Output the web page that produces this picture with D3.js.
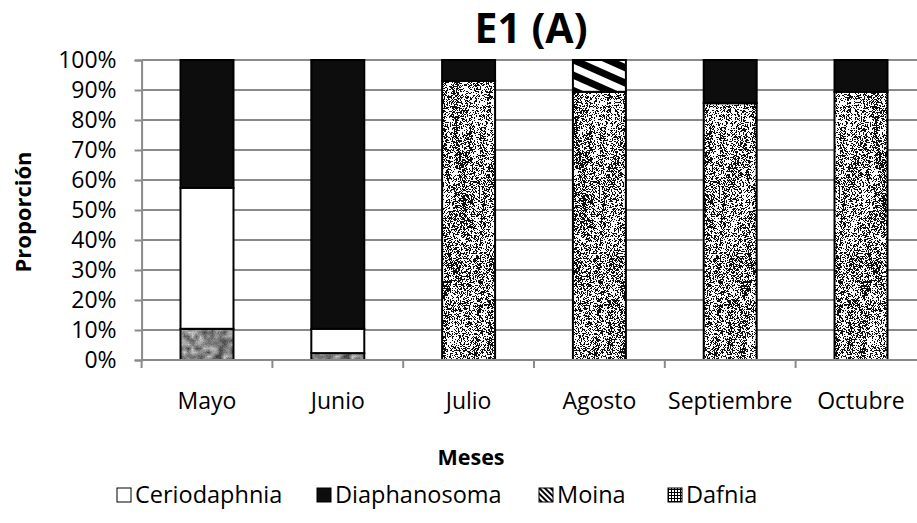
<!DOCTYPE html>
<html>
<head>
<meta charset="utf-8">
<script src="https://cdn.jsdelivr.net/npm/d3@7"></script>
<style>
  body { margin: 0; background: #fff; }
  svg { display: block; font-family: "Open Sans", sans-serif; }
</style>
</head>
<body>
<svg id="chart" width="917" height="523"></svg>
<script>
// values (percent of each month)
var meses = ["Mayo", "Junio", "Julio", "Agosto", "Septiembre", "Octubre"];
var dafnia = [10.4, 2.3, 93.0, 89.4, 85.6, 89.4];
var ceriodaphnia = [47.0, 8.1, 0, 0, 0, 0];
var diaphanosoma = [42.6, 89.6, 7.0, 0, 14.4, 10.6];
var moina = [0, 0, 0, 10.6, 0, 0];
var yTicks = [0, 10, 20, 30, 40, 50, 60, 70, 80, 90, 100];
var legendNames = ["Ceriodaphnia", "Diaphanosoma", "Moina", "Dafnia"];

var svg = d3.select("#chart");
var defs = svg.append("defs");

// small seeded generator, only for the bar textures
var seed = 12345;
function rnd() {
    seed = (seed * 1103515245 + 12345) % 2147483648;
    return seed / 2147483648;
}
function valueNoise(w, h) {
    var g = [];
    for (var i = 0; i < w * h; i++) g.push(rnd());
    return function(x, y) {
        var x0 = Math.floor(x), y0 = Math.floor(y), fx = x - x0, fy = y - y0;
        function v(a, b) { return g[((b % h) * w) + (a % w)]; }
        var t = v(x0, y0) * (1 - fx) + v(x0 + 1, y0) * fx;
        var b = v(x0, y0 + 1) * (1 - fx) + v(x0 + 1, y0 + 1) * fx;
        return t * (1 - fy) + b * fy;
    };
}
function textureURL(w, h, pixel) {
    var c = document.createElement("canvas");
    c.width = w; c.height = h;
    var ctx = c.getContext("2d");
    var img = ctx.createImageData(w, h);
    for (var yy = 0; yy < h; yy++) {
        for (var xx = 0; xx < w; xx++) {
            var g = pixel(xx, yy);
            var k = (yy * w + xx) * 4;
            img.data[k] = img.data[k + 1] = img.data[k + 2] = g;
            img.data[k + 3] = 255;
        }
    }
    ctx.putImageData(img, 0, 0);
    return c.toDataURL();
}

// black and white speckle with vertical streaks
var streak = valueNoise(12, 12);
var noiseURL = textureURL(60, 300, function(px, py) {
    var f = streak((px / 4) % 12, (py / 22) % 12);
    return rnd() < 0.12 + 0.6 * f ? 15 : 250;
});
defs.append("pattern").attr("id", "speckle").attr("patternUnits", "userSpaceOnUse")
    .attr("width", 60).attr("height", 300)
    .append("image").attr("href", noiseURL).attr("width", 60).attr("height", 300);

// grey granite
var blob = valueNoise(16, 16);
var graniteURL = textureURL(64, 64, function(px, py) {
    var f = blob((px / 4) % 16, (py / 4) % 16);
    return Math.round(70 + 130 * f + 30 * (rnd() - 0.5));
});
defs.append("pattern").attr("id", "granite").attr("patternUnits", "userSpaceOnUse")
    .attr("width", 64).attr("height", 64)
    .append("image").attr("href", graniteURL).attr("width", 64).attr("height", 64);

// diagonal stripes
var stripes = defs.append("pattern").attr("id", "stripes").attr("patternUnits", "userSpaceOnUse")
    .attr("width", 14).attr("height", 14).attr("patternTransform", "rotate(24)");
stripes.append("rect").attr("width", 14).attr("height", 14).attr("fill", "#fff");
stripes.append("rect").attr("width", 14).attr("height", 7).attr("fill", "#000");

var stripesSmall = defs.append("pattern").attr("id", "stripesSmall").attr("patternUnits", "userSpaceOnUse")
    .attr("width", 4).attr("height", 4).attr("patternTransform", "rotate(45)");
stripesSmall.append("rect").attr("width", 4).attr("height", 4).attr("fill", "#fff");
stripesSmall.append("rect").attr("width", 4).attr("height", 2).attr("fill", "#000");

var grid = defs.append("pattern").attr("id", "gridSmall").attr("patternUnits", "userSpaceOnUse")
    .attr("width", 3).attr("height", 3);
grid.append("rect").attr("width", 3).attr("height", 3).attr("fill", "#fff");
grid.append("rect").attr("width", 3).attr("height", 1).attr("fill", "#000");
grid.append("rect").attr("width", 1).attr("height", 3).attr("fill", "#000");

var plotL = 141.6, plotR = 926.4, plotT = 60, plotB = 360;

var x = d3.scaleBand().domain(meses).range([plotL, plotR])
    .paddingInner(0.595).paddingOuter(0.2975);
var y = d3.scaleLinear().domain([0, 100]).range([plotB, plotT]);

// gridlines
svg.append("g").selectAll("line").data(yTicks).enter().append("line")
    .attr("x1", plotL).attr("x2", plotR)
    .attr("y1", function(d) { return y(d); }).attr("y2", function(d) { return y(d); })
    .attr("stroke", "#8a8a8a").attr("stroke-width", 2);

// y axis
var yAxis = svg.append("g").attr("transform", "translate(" + plotL + ",0)")
    .call(d3.axisLeft(y).tickValues(yTicks).tickSize(7).tickPadding(18)
        .tickFormat(function(d) { return d + "%"; }));
yAxis.select(".domain").attr("stroke", "#8a8a8a").attr("stroke-width", 2);
yAxis.selectAll(".tick line").attr("stroke", "#8a8a8a").attr("stroke-width", 2);
yAxis.selectAll("text").attr("font-size", 23).attr("fill", "#000")
    .attr("font-family", "Open Sans");

// stacked bars
var rows = meses.map(function(m, i) {
    return { mes: m, i: i, dafnia: dafnia[i], ceriodaphnia: ceriodaphnia[i],
             diaphanosoma: diaphanosoma[i], moina: moina[i] };
});
var keys = ["dafnia", "ceriodaphnia", "diaphanosoma", "moina"];
var stack = d3.stack().keys(keys)(rows);
function fillFor(key, i) {
    if (key === "dafnia") return i < 2 ? "url(#granite)" : "url(#speckle)";
    if (key === "ceriodaphnia") return "#fff";
    if (key === "diaphanosoma") return "#0d0d0d";
    return "url(#stripes)";
}
stack.forEach(function(layer) {
    svg.append("g").selectAll("rect")
        .data(layer.filter(function(d) { return d[1] - d[0] > 0; }))
        .enter().append("rect")
        .attr("x", function(d) { return x(d.data.mes); })
        .attr("width", x.bandwidth())
        .attr("y", function(d) { return y(d[1]); })
        .attr("height", function(d) { return y(d[0]) - y(d[1]); })
        .attr("fill", function(d) { return fillFor(layer.key, d.data.i); })
        .attr("stroke", "#000").attr("stroke-width", 2);
});

// x axis line and category ticks
svg.append("line").attr("x1", plotL).attr("x2", plotR)
    .attr("y1", plotB).attr("y2", plotB)
    .attr("stroke", "#8a8a8a").attr("stroke-width", 2);
var step = x.step();
svg.append("g").selectAll("line").data(d3.range(meses.length + 1)).enter().append("line")
    .attr("x1", function(k) { return plotL + k * step; })
    .attr("x2", function(k) { return plotL + k * step; })
    .attr("y1", plotB).attr("y2", plotB + 8)
    .attr("stroke", "#8a8a8a").attr("stroke-width", 2);
svg.append("g").selectAll("text").data(meses).enter().append("text")
    .attr("x", function(d) { return x(d) + x.bandwidth() / 2; })
    .attr("y", 409)
    .attr("text-anchor", "middle").attr("font-size", 23)
    .text(function(d) { return d; });

// titles
svg.append("text").attr("x", 531).attr("y", 43).attr("text-anchor", "middle")
    .attr("font-size", 41).attr("font-weight", "bold").text("E1 (A)");
svg.append("text").attr("transform", "translate(31,212) rotate(-90)")
    .attr("text-anchor", "middle").attr("font-size", 22).attr("font-weight", "bold")
    .text("Proporción");
svg.append("text").attr("x", 471).attr("y", 465).attr("text-anchor", "middle")
    .attr("font-size", 21.5).attr("font-weight", "bold").text("Meses");

// legend
var legendX = [117, 317, 539, 668];
var legendFill = ["#fff", "#0d0d0d", "url(#stripesSmall)", "url(#gridSmall)"];
var lg = svg.append("g").selectAll("g").data(legendNames).enter().append("g")
    .attr("transform", function(d, i) { return "translate(" + legendX[i] + ",0)"; });
lg.append("rect").attr("x", 0).attr("y", 488).attr("width", 14).attr("height", 14)
    .attr("fill", function(d, i) { return legendFill[i]; })
    .attr("stroke", "#000").attr("stroke-width", 1);
lg.append("text").attr("x", 18).attr("y", 503).attr("font-size", 23.5)
    .text(function(d) { return d; });
</script>
</body>
</html>
